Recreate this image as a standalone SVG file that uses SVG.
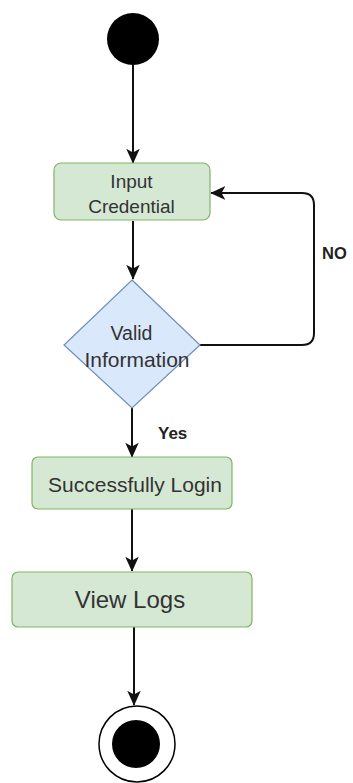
<svg xmlns="http://www.w3.org/2000/svg" width="353" height="783" viewBox="0 0 353 783">
  <defs>
    <marker id="arrow" viewBox="0 0 10 10" refX="9.5" refY="5" markerWidth="7.5" markerHeight="7.5" orient="auto" markerUnits="strokeWidth">
      <path d="M0,0.5 L10,5 L0,9.5 L2.5,5 Z" fill="#111"/>
    </marker>
    <style>
      .action { fill: #d5e8d4; stroke: #82b366; stroke-width: 1.2; }
      .decision { fill: #dae8fc; stroke: #6c8ebf; stroke-width: 1.2; }
      .lbl { font-family: "Liberation Sans", Arial, sans-serif; fill: #333; text-anchor: middle; }
      .edge { fill: none; stroke: #111; stroke-width: 2; marker-end: url(#arrow); }
      .guard { font-family: "Liberation Sans", Arial, sans-serif; font-weight: bold; fill: #222; }
    </style>
  </defs>
  <rect width="353" height="783" fill="#fff"/>

  <g id="connectors">
    <path class="edge" d="M133,65 V163"/>
    <path class="edge" d="M133,221 V279"/>
    <path class="edge" d="M200,345 H302 Q314,345 314,333 V205 Q314,193 302,193 H211"/>
    <path class="edge" d="M132,407 V457"/>
    <path class="edge" d="M132,509 V571"/>
    <path class="edge" d="M134,627 V705"/>
  </g>

  <g id="start">
    <circle cx="133" cy="39" r="26" fill="#000"/>
  </g>

  <g id="input-credential">
    <rect class="action" x="54" y="163" width="156" height="57" rx="7"/>
    <text class="lbl" x="131.5" y="188" font-size="19">Input</text>
    <text class="lbl" x="131.5" y="213" font-size="19">Credential</text>
  </g>

  <g id="valid-information">
    <polygon class="decision" points="132,280 200,345 132,408 64,345"/>
    <text class="lbl" x="131.5" y="340" font-size="19.5">Valid</text>
    <text class="lbl" x="137" y="367" font-size="21">Information</text>
  </g>

  <g id="successfully-login">
    <rect class="action" x="32" y="457" width="200" height="52" rx="6"/>
    <text class="lbl" x="135" y="492" font-size="21">Successfully Login</text>
  </g>

  <g id="view-logs">
    <rect class="action" x="12" y="572" width="240" height="55" rx="6"/>
    <text class="lbl" x="130" y="608" font-size="24">View Logs</text>
  </g>

  <g id="end">
    <circle cx="137" cy="744" r="38" fill="#fff" stroke="#000" stroke-width="1.5"/>
    <circle cx="136" cy="744" r="24" fill="#000"/>
  </g>

  <g id="guards">
    <text class="guard" x="322" y="259" font-size="16.5">NO</text>
    <text class="guard" x="158" y="439" font-size="17">Yes</text>
  </g>
</svg>
